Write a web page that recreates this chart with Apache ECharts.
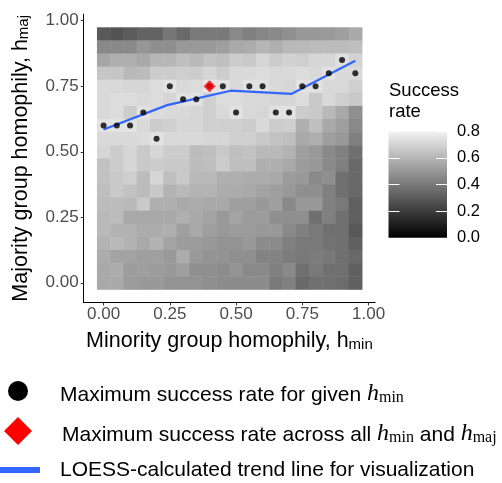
<!DOCTYPE html>
<html><head><meta charset="utf-8">
<script src="https://cdn.jsdelivr.net/npm/echarts@6/dist/echarts.min.js"></script>
<style>html,body{margin:0;padding:0;background:#fff}#c{width:502px;height:483px}</style>
</head><body><div id="c"></div>
<script>
// ---------- data ----------
const hminValues = [0,0.05,0.10,0.15,0.20,0.25,0.30,0.35,0.40,0.45,0.50,0.55,0.60,0.65,0.70,0.75,0.80,0.85,0.90,0.95];
// rows listed from h_maj = 0.95 (top) down to 0.00 (bottom)
const hmajValues = [0.95,0.90,0.85,0.80,0.75,0.70,0.65,0.60,0.55,0.50,0.45,0.40,0.35,0.30,0.25,0.20,0.15,0.10,0.05,0.00];
const successRate = [
  [0.28,0.26,0.29,0.31,0.31,0.37,0.33,0.38,0.38,0.38,0.43,0.40,0.42,0.43,0.45,0.48,0.48,0.48,0.50,0.53],
  [0.43,0.43,0.43,0.47,0.45,0.45,0.48,0.48,0.48,0.50,0.53,0.54,0.57,0.55,0.58,0.58,0.59,0.59,0.59,0.60],
  [0.52,0.55,0.55,0.53,0.57,0.57,0.60,0.58,0.61,0.60,0.64,0.63,0.67,0.64,0.66,0.65,0.67,0.67,0.70,0.66],
  [0.62,0.62,0.58,0.59,0.64,0.64,0.65,0.64,0.67,0.64,0.68,0.68,0.69,0.68,0.68,0.69,0.68,0.71,0.68,0.68],
  [0.68,0.68,0.67,0.67,0.69,0.71,0.68,0.69,0.72,0.71,0.68,0.71,0.71,0.68,0.67,0.71,0.71,0.68,0.68,0.65],
  [0.68,0.69,0.69,0.68,0.69,0.67,0.71,0.71,0.65,0.69,0.69,0.68,0.68,0.67,0.67,0.69,0.63,0.68,0.65,0.63],
  [0.68,0.69,0.64,0.71,0.69,0.68,0.68,0.67,0.65,0.68,0.71,0.68,0.67,0.71,0.71,0.64,0.63,0.58,0.53,0.45],
  [0.71,0.71,0.71,0.68,0.64,0.65,0.67,0.67,0.65,0.65,0.65,0.64,0.68,0.64,0.65,0.55,0.60,0.53,0.50,0.43],
  [0.68,0.68,0.68,0.69,0.71,0.68,0.68,0.68,0.67,0.67,0.65,0.65,0.63,0.61,0.60,0.53,0.55,0.50,0.48,0.40],
  [0.67,0.64,0.67,0.63,0.67,0.64,0.64,0.59,0.60,0.63,0.60,0.61,0.58,0.58,0.56,0.50,0.48,0.43,0.40,0.35],
  [0.61,0.64,0.67,0.63,0.64,0.63,0.63,0.59,0.60,0.64,0.60,0.60,0.55,0.55,0.53,0.49,0.48,0.43,0.40,0.33],
  [0.61,0.63,0.65,0.59,0.67,0.60,0.63,0.58,0.58,0.55,0.55,0.54,0.54,0.53,0.49,0.48,0.43,0.45,0.35,0.33],
  [0.60,0.63,0.61,0.59,0.63,0.56,0.58,0.56,0.56,0.54,0.54,0.53,0.51,0.50,0.48,0.45,0.45,0.40,0.35,0.33],
  [0.59,0.59,0.58,0.63,0.55,0.55,0.53,0.54,0.53,0.53,0.50,0.50,0.48,0.50,0.43,0.48,0.48,0.40,0.38,0.30],
  [0.58,0.59,0.53,0.53,0.53,0.53,0.55,0.53,0.51,0.48,0.51,0.49,0.49,0.45,0.45,0.45,0.35,0.40,0.35,0.30],
  [0.58,0.56,0.56,0.54,0.54,0.55,0.50,0.53,0.50,0.48,0.49,0.49,0.48,0.48,0.43,0.40,0.38,0.35,0.35,0.28],
  [0.56,0.58,0.56,0.53,0.56,0.51,0.49,0.49,0.48,0.46,0.46,0.48,0.44,0.44,0.40,0.38,0.38,0.36,0.35,0.30],
  [0.54,0.51,0.51,0.50,0.50,0.48,0.54,0.48,0.46,0.46,0.45,0.45,0.41,0.41,0.39,0.38,0.39,0.38,0.35,0.33],
  [0.53,0.54,0.49,0.50,0.49,0.48,0.50,0.45,0.45,0.44,0.46,0.43,0.43,0.40,0.43,0.35,0.38,0.35,0.35,0.30],
  [0.53,0.53,0.49,0.48,0.48,0.46,0.46,0.46,0.45,0.44,0.44,0.44,0.44,0.38,0.40,0.33,0.35,0.35,0.34,0.30]
];
// h_maj giving the maximum success rate for each h_min
const maxHmaj = [0.60,0.60,0.60,0.65,0.55,0.75,0.70,0.70,0.75,0.75,0.65,0.75,0.75,0.65,0.65,0.75,0.75,0.80,0.85,0.80];
const globalMaxHmin = [0.40];
const globalMaxHmaj = [0.75];
// LOESS trend line vertices
const trendHmin = [0, 0.24, 0.48, 0.71, 0.95];
const trendHmaj = [0.585, 0.678, 0.733, 0.721, 0.847];
const axisTickValues = [0, 0.25, 0.5, 0.75, 1];
const legendTickValues = [0, 0.2, 0.4, 0.6, 0.8];

// ---------- build ----------
const heatData = [];
hmajValues.forEach((y, i) => hminValues.forEach((x, j) => heatData.push([x, y, successRate[i][j]])));
const maxPoints = hminValues.map((x, j) => [x, maxHmaj[j]]);
const globalPoint = globalMaxHmin.map((x, k) => [x, globalMaxHmaj[k]]);
const trendData = trendHmin.map((x, k) => [x, trendHmaj[k]]);

const SANS = 'Liberation Sans, Arial, Helvetica, sans-serif';
const SERIF = 'Liberation Serif, Times New Roman, serif';
const HALF = 0.025;

const titleRich = {
  a: {fontFamily: SANS, fontSize: 21.5, color: '#000', lineHeight: 28, verticalAlign: 'bottom'},
  s: {fontFamily: SANS, fontSize: 15, color: '#000', lineHeight: 19, verticalAlign: 'bottom'}
};
const legendRich = {
  t: {fontFamily: SANS, fontSize: 21, fill: '#000', lineHeight: 30, verticalAlign: 'bottom'},
  h: {fontFamily: SERIF, fontStyle: 'italic', fontSize: 24, fill: '#000', lineHeight: 30, verticalAlign: 'bottom'},
  s: {fontFamily: SERIF, fontSize: 16, fill: '#000', lineHeight: 20, verticalAlign: 'bottom'}
};

const chart = echarts.init(document.getElementById('c'), null, {renderer: 'canvas'});
chart.setOption({
  animation: false,
  backgroundColor: '#ffffff',
  title: {
    text: 'Success\nrate', left: 384, top: 75,
    textStyle: {fontFamily: SANS, fontSize: 18.5, fontWeight: 'normal', color: '#000', lineHeight: 21}
  },
  grid: [
    {left: 83.7, top: 14.2, width: 291.5, height: 288.2},
    {left: 388.5, top: 131.2, width: 58.5, height: 106.6}
  ],
  xAxis: [
    {
      type: 'value', gridIndex: 0, min: -0.075, max: 1.025,
      axisLine: {show: true, onZero: false, lineStyle: {color: '#000', width: 1}},
      axisTick: {show: true, length: 3, lineStyle: {color: '#333'}, customValues: axisTickValues},
      axisLabel: {fontFamily: SANS, fontSize: 17, color: '#4d4d4d', margin: 3,
        customValues: axisTickValues, formatter: v => v.toFixed(2)},
      splitLine: {show: false},
      name: '{a|Minority group homophily, h}{s|min}',
      nameLocation: 'middle', nameGap: 22,
      nameTextStyle: {rich: titleRich}
    },
    {type: 'value', gridIndex: 1, min: 0, max: 1, show: false}
  ],
  yAxis: [
    {
      type: 'value', gridIndex: 0, min: -0.075, max: 1.025,
      axisLine: {show: true, onZero: false, lineStyle: {color: '#000', width: 1}},
      axisTick: {show: true, length: 3, lineStyle: {color: '#333'}, customValues: axisTickValues},
      axisLabel: {fontFamily: SANS, fontSize: 17, color: '#4d4d4d', margin: 5,
        customValues: axisTickValues, formatter: v => v.toFixed(2)},
      splitLine: {show: false},
      name: '{a|Majority group homophily, h}{s|maj}',
      nameLocation: 'middle', nameGap: 52, nameRotate: 90,
      nameTextStyle: {rich: titleRich}
    },
    {
      type: 'value', gridIndex: 1, min: 0, max: 0.8, interval: 0.2, position: 'right', z: 10,
      axisLine: {show: false, onZero: false},
      axisTick: {show: true, inside: true, length: 11, lineStyle: {color: '#ffffff', width: 1}},
      axisLabel: {fontFamily: SANS, fontSize: 16.5, color: '#000', margin: 10, formatter: v => v.toFixed(1)},
      splitLine: {show: false}
    },
    {
      type: 'value', gridIndex: 1, min: 0, max: 0.8, interval: 0.2, position: 'left', z: 10,
      axisLine: {show: false, onZero: false},
      axisTick: {show: true, inside: true, length: 11, lineStyle: {color: '#ffffff', width: 1}},
      axisLabel: {show: false},
      splitLine: {show: false}
    }
  ],
  visualMap: {
    show: false, type: 'continuous', min: 0, max: 0.8, dimension: 2, seriesIndex: 0,
    inRange: {color: ['#000000', '#ffffff']}
  },
  series: [
    {
      type: 'custom', xAxisIndex: 0, yAxisIndex: 0, data: heatData, z: 1,
      encode: {x: 0, y: 1},
      renderItem: function (params, api) {
        const x = api.value(0), y = api.value(1);
        const p0 = api.coord([x - HALF, y + HALF]);
        const p1 = api.coord([x + HALF, y - HALF]);
        return {type: 'rect',
          shape: {x: p0[0], y: p0[1], width: p1[0] - p0[0] + 0.5, height: p1[1] - p0[1] + 0.5},
          style: {fill: api.visual('color')}};
      }
    },
    {
      type: 'line', xAxisIndex: 0, yAxisIndex: 0, data: trendData, z: 3,
      symbol: 'none', lineStyle: {color: '#3366FF', width: 2.2}
    },
    {
      type: 'scatter', xAxisIndex: 0, yAxisIndex: 0, data: maxPoints, z: 4,
      symbol: 'circle', symbolSize: 6, itemStyle: {color: '#000'}
    },
    {
      type: 'scatter', xAxisIndex: 0, yAxisIndex: 0, data: globalPoint, z: 5,
      symbol: 'diamond', symbolSize: [12, 12], itemStyle: {color: '#ff0000'}
    },
    {
      type: 'custom', xAxisIndex: 1, yAxisIndex: 1, data: [[0, 0.8]], z: 1,
      renderItem: function (params, api) {
        const p0 = api.coord([0, 0.8]);
        const p1 = api.coord([1, 0]);
        return {type: 'rect',
          shape: {x: p0[0], y: p0[1], width: p1[0] - p0[0], height: p1[1] - p0[1]},
          style: {fill: new echarts.graphic.LinearGradient(0, 0, 0, 1,
            [{offset: 0, color: '#f2f2f2'}, {offset: 1, color: '#000000'}])}};
      }
    }
  ],
  graphic: [
    {type: 'circle', shape: {cx: 18, cy: 391, r: 10}, style: {fill: '#000'}},
    {type: 'polygon', shape: {points: [[18, 417], [32, 431], [18, 445], [4, 431]]}, style: {fill: '#ff0000'}},
    {type: 'line', shape: {x1: 0, y1: 470, x2: 40, y2: 470}, style: {stroke: '#3366FF', lineWidth: 6}},
    {type: 'text', x: 60, y: 391, style: {
      text: '{t|Maximum success rate for given }{h|h}{s|min}', verticalAlign: 'middle', rich: legendRich}},
    {type: 'text', x: 62, y: 431, style: {
      text: '{t|Maximum success rate across all }{h|h}{s|min}{t| and }{h|h}{s|maj}', verticalAlign: 'middle', rich: legendRich}},
    {type: 'text', x: 60, y: 470, style: {
      text: 'LOESS-calculated trend line for visualization', verticalAlign: 'middle',
      fontFamily: SANS, fontSize: 21, fill: '#000'}}
  ]
});
</script></body></html>
